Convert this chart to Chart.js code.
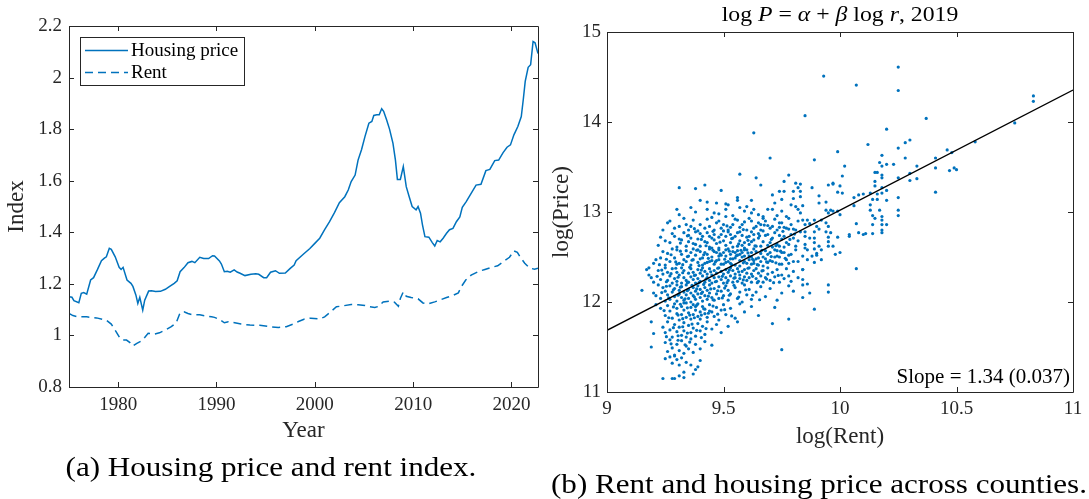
<!DOCTYPE html>
<html>
<head>
<meta charset="utf-8">
<script src="https://cdn.jsdelivr.net/npm/chart.js@4.4.1/dist/chart.umd.min.js"></script>
<style>
  html, body { margin: 0; padding: 0; background: #fff; }
  body { width: 1089px; height: 499px; position: relative; overflow: hidden; font-family: "Liberation Serif", "Times New Roman", serif; color: #000; }
  canvas { position: absolute; top: 0; }
  #indexChart { left: 0; }
  #countyChart { left: 545px; }
  .txt { position: absolute; white-space: nowrap; text-align: center; }
  #rightTitle { left: 640px; width: 400px; top: 1px; font-size: 22px; line-height: 26px; transform: scaleX(1.08); }
  #capA { left: 36px; width: 470px; top: 451px; font-size: 28px; line-height: 32px; transform: scaleX(1.11); }
  #capB { left: 554px; width: 530px; top: 468px; font-size: 28px; line-height: 32px; transform: scaleX(1.11); }
</style>
</head>
<body>
<canvas id="indexChart" width="545" height="460"></canvas>
<canvas id="countyChart" width="544" height="460"></canvas>
<div class="txt" id="rightTitle">log <i>P</i> = <i>α</i> + <i>β</i> log <i>r</i>, 2019</div>
<div class="txt" id="capA">(a) Housing price and rent index.</div>
<div class="txt" id="capB">(b) Rent and housing price across counties.</div>
<script>
// ---- panel (a): housing price and rent index ----
const priceYears = [1975.0, 1975.3, 1975.5, 1976.0, 1976.25, 1976.5, 1976.8, 1977.2, 1977.5, 1977.9,
  1978.3, 1978.6, 1978.8, 1979.1, 1979.3, 1979.7, 1980.1, 1980.3, 1980.5, 1980.9,
  1981.3, 1981.5, 1981.8, 1982.0, 1982.2, 1982.5, 1982.7, 1983.1, 1983.4, 1983.8,
  1984.3, 1984.8, 1985.2, 1985.7, 1986.0, 1986.3, 1986.7, 1987.1, 1987.5, 1987.8,
  1988.3, 1988.7, 1989.2, 1989.6, 1989.8, 1990.3, 1990.5, 1990.8, 1991.1, 1991.4,
  1991.8, 1992.1, 1992.4, 1992.9, 1993.5, 1994.0, 1994.3, 1994.8, 1995.1, 1995.5,
  1996.0, 1996.4, 1997.0, 1997.5, 1997.9, 1998.1, 1998.8, 1999.5, 2000.0, 2000.5,
  2001.0, 2001.5, 2002.0, 2002.5, 2003.05, 2003.4, 2003.7, 2004.1, 2004.4, 2004.75,
  2005.1, 2005.5, 2005.8, 2006.0, 2006.3, 2006.55, 2006.8, 2007.0, 2007.3, 2007.6,
  2007.95, 2008.2, 2008.4, 2008.7, 2009.0, 2009.3, 2009.6, 2009.9, 2010.3, 2010.5,
  2010.75, 2010.95, 2011.2, 2011.6, 2011.95, 2012.2, 2012.45, 2012.75, 2013.05, 2013.4,
  2013.7, 2014.05, 2014.4, 2014.75, 2015.0, 2015.4, 2015.9, 2016.4, 2016.9, 2017.4,
  2017.8, 2018.3, 2018.7, 2019.15, 2019.55, 2019.9, 2020.25, 2020.65, 2021.0, 2021.2,
  2021.4, 2021.7, 2021.95, 2022.2, 2022.4, 2022.7];
const priceIndex = [1.150, 1.148, 1.135, 1.127, 1.163, 1.166, 1.160, 1.215, 1.224, 1.256,
  1.290, 1.300, 1.305, 1.338, 1.334, 1.305, 1.264, 1.256, 1.264, 1.215,
  1.202, 1.190, 1.157, 1.124, 1.148, 1.098, 1.137, 1.172, 1.173, 1.170,
  1.171, 1.179, 1.189, 1.202, 1.212, 1.247, 1.263, 1.282, 1.287, 1.282,
  1.303, 1.298, 1.298, 1.309, 1.308, 1.289, 1.277, 1.247, 1.249, 1.245,
  1.254, 1.246, 1.241, 1.232, 1.237, 1.239, 1.237, 1.224, 1.224, 1.245,
  1.251, 1.241, 1.242, 1.260, 1.273, 1.290, 1.314, 1.337, 1.357, 1.377,
  1.410, 1.441, 1.476, 1.515, 1.538, 1.564, 1.597, 1.622, 1.680, 1.720,
  1.771, 1.823, 1.830, 1.853, 1.856, 1.856, 1.879, 1.869, 1.836, 1.800,
  1.745, 1.680, 1.605, 1.605, 1.655, 1.577, 1.538, 1.500, 1.487, 1.500,
  1.474, 1.429, 1.383, 1.381, 1.360, 1.347, 1.368, 1.363, 1.377, 1.396,
  1.410, 1.415, 1.441, 1.460, 1.497, 1.519, 1.551, 1.583, 1.586, 1.639,
  1.644, 1.678, 1.680, 1.709, 1.730, 1.739, 1.778, 1.810, 1.849, 1.914,
  1.985, 2.040, 2.050, 2.140, 2.135, 2.093];

const rentYears = [1975.0, 1975.4, 1975.8, 1976.8, 1977.8, 1978.8, 1979.3, 1979.8, 1980.2, 1980.5,
  1980.85, 1981.2, 1981.5, 1981.9, 1982.4, 1982.7, 1983.05, 1983.7, 1984.2, 1984.9,
  1985.4, 1985.9, 1986.3, 1986.7, 1987.1, 1987.6, 1988.3, 1989.0, 1989.5, 1989.8,
  1990.3, 1990.8, 1991.2, 1991.7, 1992.5, 1993.4, 1994.4, 1995.4, 1996.3, 1997.1,
  1997.8, 1998.4, 1998.9, 1999.6, 2000.5, 2001.0, 2001.5, 2002.2, 2002.9, 2003.7,
  2004.4, 2005.1, 2005.6, 2006.1, 2006.5, 2006.95, 2007.6, 2008.1, 2008.5, 2008.7,
  2009.0, 2009.3, 2009.8, 2010.5, 2011.0, 2011.5, 2012.2, 2012.7, 2013.4, 2014.05,
  2014.6, 2014.9, 2015.35, 2015.9, 2016.6, 2017.3, 2017.95, 2018.6, 2019.3, 2019.8,
  2020.25, 2020.6, 2020.85, 2021.35, 2021.85, 2022.35, 2022.7];
const rentIndex = [1.085, 1.077, 1.073, 1.072, 1.068, 1.059, 1.044, 1.014, 0.988, 0.982,
  0.982, 0.972, 0.959, 0.969, 0.979, 0.992, 1.008, 1.005, 1.010, 1.023,
  1.034, 1.049, 1.088, 1.092, 1.085, 1.080, 1.080, 1.075, 1.072, 1.070,
  1.062, 1.049, 1.053, 1.050, 1.044, 1.040, 1.039, 1.034, 1.031, 1.034,
  1.044, 1.055, 1.063, 1.067, 1.064, 1.072, 1.088, 1.111, 1.115, 1.120,
  1.119, 1.116, 1.111, 1.108, 1.113, 1.130, 1.133, 1.129, 1.113, 1.143,
  1.169, 1.152, 1.147, 1.142, 1.126, 1.122, 1.130, 1.137, 1.147, 1.155,
  1.165, 1.189, 1.215, 1.234, 1.247, 1.256, 1.264, 1.270, 1.290, 1.303,
  1.328, 1.322, 1.306, 1.280, 1.261, 1.257, 1.261];

const yearTicks = [1980, 1990, 2000, 2010, 2020];
const indexTicks = [0.8, 1, 1.2, 1.4, 1.6, 1.8, 2, 2.2];

// ---- panel (b): counties, [log rent, log price], 2019 ----
const counties = [
  [9.63,13.88],[9.70,13.60],[9.57,13.42],[9.78,13.41],[9.76,13.34],[9.64,13.38],[9.66,13.30],[9.31,13.27],
  [9.38,13.26],[9.42,13.30],[9.49,13.24],[9.56,13.16],[9.56,13.13],[9.40,13.13],[9.43,13.11],[9.47,13.10],
  [9.51,13.09],[9.62,13.13],[9.71,13.19],[9.74,13.23],[9.76,13.23],[9.80,13.23],[9.81,13.32],[9.82,13.27],
  [9.30,13.03],[9.31,12.97],[9.36,13.05],[9.43,13.03],[9.46,12.99],[9.51,13.03],[9.54,12.96],[9.59,13.01],
  [9.60,13.06],[9.63,13.03],[9.65,12.97],[9.69,13.03],[9.71,13.03],[9.75,13.14],[9.75,13.01],[9.79,13.08],
  [9.81,13.06],[9.82,13.03],[9.67,12.93],[9.73,12.96],[9.77,12.95],[9.52,13.08],[9.57,13.05],[9.38,13.00],
  [9.48,12.98],[9.62,12.99],[9.72,13.10],[9.80,13.15],
  [9.24,12.80],[9.26,12.88],[9.27,12.90],[9.29,12.82],[9.31,12.84],[9.33,12.93],[9.34,12.86],[9.35,12.80],
  [9.37,12.91],[9.39,12.79],[9.40,12.86],[9.42,12.82],[9.44,12.84],[9.45,12.94],[9.46,12.80],[9.48,12.90],
  [9.50,12.86],[9.51,12.95],[9.52,12.80],[9.54,12.86],[9.55,12.92],[9.56,12.91],[9.57,12.83],[9.58,12.86],
  [9.60,12.80],[9.61,12.93],[9.62,12.90],[9.63,12.82],[9.64,12.84],[9.65,12.88],[9.66,12.80],[9.67,12.95],
  [9.68,12.90],[9.69,12.85],[9.70,12.82],[9.71,12.84],[9.72,12.92],[9.73,12.80],[9.74,12.88],[9.75,12.88],
  [9.76,12.83],[9.77,12.82],[9.78,12.93],[9.79,12.86],[9.80,12.81],[9.81,12.80],[9.82,12.90],[9.47,12.88],
  [9.53,12.83],[9.59,12.89],[9.36,12.84],[9.43,12.92],[9.49,12.82],[9.66,12.86],[9.74,12.83],[9.78,12.81],
  [9.22,12.63],[9.23,12.72],[9.25,12.68],[9.27,12.66],[9.28,12.76],[9.30,12.61],[9.31,12.70],[9.32,12.69],
  [9.33,12.77],[9.34,12.62],[9.35,12.74],[9.36,12.71],[9.37,12.65],[9.38,12.64],[9.38,12.78],[9.39,12.70],
  [9.40,12.62],[9.41,12.73],[9.42,12.67],[9.43,12.66],[9.43,12.77],[9.44,12.61],[9.45,12.71],[9.46,12.75],
  [9.47,12.65],[9.48,12.60],[9.48,12.72],[9.49,12.75],[9.50,12.68],[9.51,12.73],[9.51,12.63],[9.52,12.78],
  [9.53,12.66],[9.54,12.71],[9.54,12.61],[9.55,12.73],[9.56,12.62],[9.56,12.77],[9.57,12.68],[9.58,12.74],
  [9.59,12.66],[9.59,12.60],[9.60,12.72],[9.61,12.73],[9.61,12.64],[9.62,12.78],[9.63,12.69],[9.64,12.62],
  [9.65,12.71],[9.65,12.76],[9.66,12.62],[9.67,12.67],[9.68,12.74],[9.69,12.75],[9.70,12.66],[9.71,12.71],
  [9.71,12.61],[9.72,12.77],[9.73,12.64],[9.74,12.62],[9.75,12.70],[9.76,12.73],[9.77,12.66],[9.78,12.64],
  [9.79,12.75],[9.80,12.71],[9.81,12.62],[9.82,12.68],[9.40,12.76],[9.46,12.69],[9.53,12.75],[9.58,12.63],
  [9.63,12.75],[9.69,12.63],[9.74,12.74],[9.44,12.73],[9.50,12.79],[9.57,12.78],[9.62,12.67],[9.67,12.79],
  [9.76,12.61],[9.35,12.67],[9.29,12.73],
  [9.315,12.655],[9.345,12.735],[9.375,12.815],[9.405,12.695],[9.425,12.625],[9.455,12.785],[9.485,12.665],
  [9.515,12.845],[9.535,12.705],[9.565,12.645],[9.585,12.805],[9.605,12.685],[9.635,12.625],[9.655,12.735],
  [9.675,12.855],[9.705,12.695],[9.725,12.625],[9.755,12.785],[9.785,12.695],[9.805,12.755],
  [9.18,12.38],[9.20,12.43],[9.21,12.47],[9.23,12.49],[9.24,12.56],[9.25,12.41],[9.26,12.54],[9.27,12.45],
  [9.28,12.59],[9.29,12.49],[9.30,12.58],[9.30,12.42],[9.31,12.43],[9.32,12.53],[9.33,12.47],[9.34,12.45],
  [9.34,12.57],[9.35,12.51],[9.36,12.55],[9.36,12.41],[9.37,12.47],[9.38,12.52],[9.39,12.44],[9.39,12.58],
  [9.40,12.56],[9.40,12.48],[9.41,12.49],[9.41,12.41],[9.42,12.55],[9.43,12.53],[9.43,12.44],[9.44,12.45],
  [9.44,12.59],[9.45,12.60],[9.45,12.50],[9.46,12.42],[9.46,12.56],[9.47,12.55],[9.47,12.46],[9.48,12.47],
  [9.48,12.58],[9.49,12.52],[9.49,12.42],[9.50,12.42],[9.50,12.55],[9.51,12.58],[9.51,12.51],[9.52,12.45],
  [9.52,12.59],[9.53,12.43],[9.53,12.53],[9.54,12.56],[9.54,12.48],[9.55,12.49],[9.55,12.41],[9.56,12.57],
  [9.56,12.52],[9.57,12.40],[9.57,12.46],[9.58,12.55],[9.58,12.50],[9.59,12.45],[9.59,12.58],[9.60,12.58],
  [9.60,12.43],[9.61,12.51],[9.61,12.47],[9.62,12.55],[9.62,12.42],[9.63,12.43],[9.63,12.59],[9.64,12.56],
  [9.64,12.48],[9.65,12.49],[9.65,12.41],[9.66,12.54],[9.67,12.40],[9.67,12.50],[9.68,12.57],[9.69,12.53],
  [9.69,12.44],[9.70,12.46],[9.71,12.45],[9.72,12.58],[9.72,12.50],[9.73,12.51],[9.74,12.42],[9.75,12.42],
  [9.75,12.55],[9.76,12.55],[9.77,12.47],[9.78,12.52],[9.79,12.53],[9.80,12.45],[9.81,12.58],[9.82,12.45],
  [9.37,12.59],[9.42,12.43],[9.48,12.51],[9.53,12.48],[9.57,12.53],[9.62,12.50],[9.66,12.45],[9.70,12.55],
  [9.74,12.50],[9.78,12.43],[9.45,12.46],[9.51,12.44],[9.55,12.55],[9.59,12.51],[9.63,12.46],[9.68,12.48],
  [9.73,12.57],
  [9.225,12.415],[9.255,12.475],[9.275,12.525],[9.295,12.445],[9.315,12.565],[9.325,12.415],[9.345,12.505],
  [9.365,12.465],[9.385,12.575],[9.395,12.405],[9.415,12.525],[9.435,12.485],[9.455,12.575],[9.465,12.445],
  [9.485,12.535],[9.505,12.475],[9.525,12.565],[9.535,12.415],[9.555,12.515],[9.575,12.575],[9.585,12.435],
  [9.605,12.545],[9.625,12.475],[9.645,12.415],[9.665,12.575],[9.685,12.445],[9.705,12.505],[9.725,12.435],
  [9.745,12.565],[9.765,12.485],
  [9.17,12.36],[9.18,12.30],[9.19,12.27],[9.20,12.22],[9.22,12.35],[9.23,12.25],[9.24,12.31],[9.25,12.38],
  [9.26,12.24],[9.26,12.33],[9.27,12.29],[9.28,12.21],[9.28,12.37],[9.29,12.26],[9.30,12.33],[9.30,12.23],
  [9.31,12.30],[9.32,12.38],[9.32,12.21],[9.33,12.27],[9.33,12.35],[9.34,12.24],[9.35,12.32],[9.35,12.22],
  [9.36,12.28],[9.36,12.37],[9.37,12.25],[9.37,12.33],[9.38,12.21],[9.38,12.30],[9.39,12.36],[9.39,12.26],
  [9.40,12.23],[9.40,12.32],[9.41,12.29],[9.41,12.38],[9.42,12.22],[9.42,12.34],[9.43,12.27],[9.43,12.31],
  [9.44,12.37],[9.44,12.24],[9.45,12.30],[9.45,12.21],[9.46,12.35],[9.46,12.27],[9.47,12.23],[9.47,12.32],
  [9.48,12.38],[9.48,12.28],[9.49,12.25],[9.49,12.34],[9.50,12.31],[9.50,12.21],[9.51,12.36],[9.51,12.27],
  [9.52,12.24],[9.52,12.33],[9.53,12.29],[9.53,12.38],[9.54,12.22],[9.54,12.35],[9.55,12.27],[9.55,12.31],
  [9.56,12.37],[9.56,12.23],[9.57,12.30],[9.57,12.26],[9.58,12.34],[9.58,12.21],[9.59,12.28],[9.59,12.36],
  [9.60,12.24],[9.60,12.32],[9.61,12.38],[9.61,12.27],[9.62,12.22],[9.62,12.31],[9.63,12.35],[9.64,12.26],
  [9.64,12.37],[9.65,12.23],[9.65,12.32],[9.66,12.29],[9.67,12.35],[9.67,12.22],[9.68,12.27],[9.69,12.38],
  [9.69,12.31],[9.70,12.24],[9.71,12.33],[9.72,12.28],[9.73,12.36],[9.74,12.22],[9.75,12.30],[9.76,12.26],
  [9.77,12.37],[9.78,12.29],[9.79,12.23],[9.80,12.34],[9.82,12.27],[9.84,12.36],
  [9.215,12.285],[9.235,12.355],[9.255,12.225],[9.275,12.315],[9.295,12.375],[9.305,12.275],[9.325,12.325],
  [9.345,12.215],[9.355,12.385],[9.375,12.295],[9.395,12.215],[9.405,12.355],[9.425,12.255],[9.445,12.335],
  [9.465,12.225],[9.475,12.375],[9.495,12.285],[9.515,12.215],[9.525,12.355],[9.545,12.265],[9.565,12.335],
  [9.585,12.245],[9.605,12.375],[9.625,12.285],[9.645,12.215],[9.665,12.345],[9.685,12.255],[9.715,12.215],
  [9.735,12.295],
  [9.15,12.13],[9.20,12.10],[9.21,12.07],[9.22,12.19],[9.23,12.04],[9.24,12.16],[9.25,12.01],[9.25,12.12],
  [9.26,12.08],[9.27,12.18],[9.27,12.03],[9.28,12.11],[9.29,12.06],[9.29,12.15],[9.30,12.19],[9.30,12.01],
  [9.31,12.09],[9.31,12.13],[9.32,12.05],[9.32,12.17],[9.33,12.02],[9.33,12.11],[9.34,12.08],[9.34,12.19],
  [9.35,12.14],[9.35,12.04],[9.36,12.10],[9.36,12.00],[9.37,12.16],[9.37,12.07],[9.38,12.12],[9.38,12.03],
  [9.39,12.18],[9.39,12.09],[9.40,12.05],[9.40,12.14],[9.41,12.01],[9.41,12.11],[9.42,12.16],[9.42,12.07],
  [9.43,12.03],[9.43,12.13],[9.44,12.10],[9.44,12.19],[9.45,12.05],[9.46,12.15],[9.46,12.02],[9.47,12.09],
  [9.48,12.17],[9.48,12.04],[9.49,12.12],[9.50,12.07],[9.51,12.18],[9.52,12.02],[9.52,12.13],[9.53,12.09],
  [9.55,12.16],[9.56,12.04],[9.57,12.11],[9.58,12.00],[9.59,12.19],[9.60,12.08],[9.61,12.14],[9.62,12.03],
  [9.64,12.11],[9.66,12.17],[9.68,12.06],[9.70,12.15],[9.73,12.02],[9.75,12.10],[9.78,12.18],[9.80,12.12],
  [9.86,12.20],[9.87,12.10],
  [9.235,12.105],[9.255,12.175],[9.265,12.045],[9.285,12.135],[9.305,12.075],[9.315,12.165],[9.335,12.035],
  [9.345,12.125],[9.365,12.185],[9.375,12.055],[9.385,12.145],[9.405,12.095],[9.415,12.195],[9.435,12.065],
  [9.445,12.145],[9.455,12.025],[9.475,12.125],[9.495,12.045],[9.505,12.155],[9.525,12.075],[9.545,12.185],
  [9.565,12.055],[9.595,12.135],[9.625,12.075],[9.655,12.025],
  [9.19,11.78],[9.21,11.97],[9.23,11.93],[9.25,11.85],[9.26,11.96],[9.27,11.90],[9.28,11.82],[9.29,11.98],
  [9.30,11.87],[9.30,11.93],[9.31,11.80],[9.32,11.95],[9.32,11.86],[9.33,11.91],[9.34,11.83],[9.34,11.99],
  [9.35,11.88],[9.36,11.94],[9.36,11.81],[9.37,11.97],[9.37,11.86],[9.38,11.91],[9.39,11.84],[9.39,11.98],
  [9.40,11.89],[9.40,11.81],[9.41,11.95],[9.42,11.87],[9.42,11.92],[9.43,11.83],[9.44,11.97],[9.45,11.89],
  [9.46,11.84],[9.47,11.94],[9.48,11.80],[9.49,11.91],[9.50,11.97],[9.51,11.86],[9.53,11.93],[9.55,11.82],
  [9.57,11.98],[9.59,11.89],[9.62,11.95],[9.65,11.85],[9.72,11.94],[9.78,11.81],[9.33,11.99],[9.38,11.95],
  [9.44,11.90],
  [9.245,11.905],[9.265,11.825],[9.285,11.945],[9.305,11.855],[9.315,11.975],[9.325,11.815],[9.345,11.935],
  [9.355,11.855],[9.375,11.825],[9.385,11.965],[9.405,11.855],[9.415,11.925],[9.435,11.875],[9.455,11.955],
  [9.475,11.865],[9.505,11.915],[9.535,11.845],
  [9.20,11.65],[9.24,11.72],[9.25,11.66],[9.26,11.78],[9.27,11.69],[9.28,11.61],[9.29,11.75],[9.30,11.67],
  [9.31,11.72],[9.32,11.63],[9.33,11.77],[9.33,11.68],[9.34,11.61],[9.35,11.74],[9.36,11.66],[9.37,11.71],
  [9.38,11.62],[9.39,11.76],[9.40,11.68],[9.41,11.73],[9.42,11.64],[9.43,11.78],[9.45,11.70],[9.47,11.75],
  [9.49,11.66],[9.52,11.73],[9.56,11.78],[9.71,11.76],
  [9.255,11.615],[9.285,11.715],[9.305,11.625],[9.325,11.725],[9.345,11.655],[9.365,11.755],[9.385,11.685],
  [9.405,11.605],[9.425,11.705],[9.275,11.535],[9.305,11.575],[9.335,11.525],[9.355,11.555],
  [9.19,11.50],[9.25,11.55],[9.26,11.45],[9.27,11.58],[9.28,11.49],[9.29,11.41],[9.30,11.53],[9.31,11.46],
  [9.32,11.57],[9.33,11.43],[9.34,11.51],[9.35,11.48],[9.36,11.59],[9.37,11.44],[9.38,11.53],[9.40,11.48],
  [9.42,11.56],[9.45,11.52],[9.75,11.47],
  [9.25,11.37],[9.27,11.39],[9.28,11.32],[9.29,11.40],[9.30,11.36],[9.31,11.30],[9.32,11.38],[9.33,11.22],
  [9.34,11.33],[9.36,11.30],[9.38,11.25],[9.39,11.28],[9.40,11.35],[9.24,11.15],[9.28,11.15],[9.29,11.15],
  [9.33,11.16],[9.37,11.20],[9.31,11.18],
  [10.25,14.61],[10.25,14.35],[9.93,14.51],[10.07,14.41],[9.85,14.07],[10.37,14.04],[10.83,14.29],[10.83,14.23],
  [10.75,13.99],[10.20,13.92],[10.12,13.75],[10.28,13.77],[10.30,13.80],[10.58,13.78],[9.99,13.67],[9.89,13.58],
  [10.18,13.63],[10.25,13.71],[10.28,13.60],[10.46,13.69],[10.48,13.66],[10.41,13.60],[10.20,13.53],[10.23,13.53],
  [10.17,13.55],[10.33,13.51],[10.16,13.44],[10.18,13.51],[10.02,13.51],[10.41,13.49],[10.47,13.46],[10.49,13.49],
  [10.50,13.47],[10.01,13.40],[10.18,13.38],[10.18,13.41],[10.25,13.38],[10.30,13.43],[10.33,13.37],[10.30,13.35],
  [10.15,13.34],[10.15,13.29],[10.15,13.44],[9.95,13.30],[9.97,13.31],[9.83,13.31],[9.88,13.27],[9.91,13.18],
  [10.01,13.21],[10.06,13.16],[10.08,13.19],[10.10,13.20],[10.13,13.21],[10.16,13.20],[10.18,13.21],[10.20,13.24],
  [10.18,13.27],[10.41,13.22],[10.25,13.16],[10.14,13.14],[10.13,13.08],[10.13,13.02],[10.14,12.96],[10.16,13.14],
  [10.17,13.02],[10.18,12.95],[10.18,12.91],[10.18,12.86],[10.18,12.80],[10.18,12.77],[10.20,13.13],[10.20,12.86],
  [10.15,12.93],[10.25,13.02],[10.25,12.96],[10.14,12.86],[10.14,12.76],[10.10,12.75],[10.04,12.75],[10.07,12.87],
  [10.06,13.07],[9.97,13.01],[9.95,12.99],[9.99,13.01],[10.00,12.97],[9.99,13.22],[10.00,13.29],[9.94,13.11],
  [9.91,13.10],[9.92,12.91],[9.94,13.02],[9.96,13.02],[9.94,12.88],[9.95,12.84],[9.94,12.78],[9.95,12.72],
  [9.95,12.67],[9.96,12.77],[9.95,12.62],[9.89,12.91],[9.90,12.84],[9.89,12.78],[9.89,12.71],[9.89,12.66],
  [9.89,12.59],[9.90,12.54],[9.90,12.52],[9.87,12.87],[9.87,12.71],[9.85,12.73],[9.85,12.64],[9.85,12.60],
  [9.84,12.51],[9.86,12.58],[9.88,12.51],[9.89,12.44],[9.86,12.47],[9.84,12.36],[9.84,12.25],[9.84,12.19],
  [9.84,12.05],[9.89,11.92],[9.95,12.19],[9.95,12.11],[10.07,12.37],[9.92,12.47],[9.98,12.53],[10.00,12.55],
  [9.99,12.72],[10.04,12.73],[10.08,12.77],[10.11,12.76],[9.97,12.62],[9.91,12.62],[9.92,12.58],[9.91,12.81],
  [9.97,13.32],[9.83,13.23],[9.83,13.17],[9.84,13.07],[9.83,12.99],[9.86,12.91],[9.84,12.91],[9.85,12.86],
  [9.83,12.78],[9.85,12.78]
];
// fitted line, read at the two edges of the plot
const fitRent = [9, 11];
const fitPrice = [11.685, 14.355];
const slopeNote = 'Slope = 1.34 (0.037)';

const rentTicks = [9, 9.5, 10, 10.5, 11];
const priceTicks = [11, 12, 13, 14, 15];

// ---- styling ----
const blue = '#0072BD';
const axisColor = '#262626';
Chart.defaults.font.family = '"Liberation Serif", "Times New Roman", serif';
Chart.defaults.color = axisColor;

// full box with inward ticks on all four sides (MATLAB look)
const boxTicks = {
  id: 'boxTicks',
  afterDraw(chart) {
    const { ctx, chartArea: a, scales: { x, y } } = chart;
    const len = 5;
    ctx.save();
    ctx.strokeStyle = axisColor;
    ctx.lineWidth = 1;
    ctx.setLineDash([]);
    ctx.beginPath();
    ctx.rect(Math.round(a.left) + 0.5, Math.round(a.top) + 0.5, Math.round(a.right - a.left), Math.round(a.bottom - a.top));
    x.ticks.forEach(t => {
      const px = Math.round(x.getPixelForValue(t.value)) + 0.5;
      ctx.moveTo(px, a.bottom); ctx.lineTo(px, a.bottom - len);
      ctx.moveTo(px, a.top); ctx.lineTo(px, a.top + len);
    });
    y.ticks.forEach(t => {
      const py = Math.round(y.getPixelForValue(t.value)) + 0.5;
      ctx.moveTo(a.left, py); ctx.lineTo(a.left + len, py);
      ctx.moveTo(a.right, py); ctx.lineTo(a.right - len, py);
    });
    ctx.stroke();
    ctx.restore();
  }
};

const legendBox = {
  id: 'legendBox',
  afterDraw(chart) {
    const { ctx, chartArea: a } = chart;
    const x0 = Math.round(a.left) + 11, y0 = Math.round(a.top) + 11;
    ctx.save();
    ctx.fillStyle = '#fff';
    ctx.fillRect(x0, y0, 164, 48);
    ctx.strokeStyle = axisColor;
    ctx.lineWidth = 1;
    ctx.strokeRect(x0 + 0.5, y0 + 0.5, 164, 48);
    ctx.font = '19px "Liberation Serif", serif';
    ctx.textBaseline = 'middle';
    chart.data.datasets.forEach((ds, i) => {
      const cy = y0 + 13.5 + i * 22;
      ctx.strokeStyle = ds.borderColor;
      ctx.lineWidth = ds.borderWidth;
      ctx.setLineDash(ds.borderDash || []);
      ctx.beginPath();
      ctx.moveTo(x0 + 5, cy); ctx.lineTo(x0 + 48, cy);
      ctx.stroke();
      ctx.setLineDash([]);
      ctx.fillStyle = '#000';
      ctx.fillText(ds.label, x0 + 51, cy + 1);
    });
    ctx.restore();
  }
};

const slopeText = {
  id: 'slopeText',
  afterDraw(chart) {
    const { ctx, chartArea: a } = chart;
    ctx.save();
    ctx.font = '21px "Liberation Serif", serif';
    ctx.fillStyle = '#000';
    ctx.textAlign = 'right';
    ctx.textBaseline = 'middle';
    ctx.fillText(slopeNote, a.right - 3, a.bottom - 15);
    ctx.restore();
  }
};

function axisOpts(min, max, tickVals, fmt, size, padding, title, titlePad) {
  return {
    type: 'linear', min, max,
    grid: { display: false, drawTicks: false },
    border: { display: false },
    afterBuildTicks: s => { s.ticks = tickVals.map(v => ({ value: v })); },
    afterFit: s => { if (s.isHorizontal()) s.height = size; else s.width = size; },
    ticks: { font: { size: 19 }, color: axisColor, padding, maxRotation: 0, autoSkip: false, callback: fmt },
    title: { display: true, text: title, font: { size: 23 }, color: axisColor, padding: titlePad }
  };
}
const fmtNum = v => String(Math.round(v * 10) / 10);

new Chart(document.getElementById('indexChart'), {
  type: 'line',
  data: {
    datasets: [
      { label: 'Housing price', data: priceYears.map((x, i) => ({ x, y: priceIndex[i] })),
        borderColor: blue, borderWidth: 1.5, pointRadius: 0, tension: 0 },
      { label: 'Rent', data: rentYears.map((x, i) => ({ x, y: rentIndex[i] })),
        borderColor: blue, borderWidth: 1.5, borderDash: [8, 5], pointRadius: 0, tension: 0 }
    ]
  },
  options: {
    responsive: false, animation: false,
    layout: { padding: { top: 26, right: 7, left: 0, bottom: 0 } },
    plugins: { legend: { display: false }, tooltip: { enabled: false } },
    scales: {
      x: axisOpts(1975, 2022.7, yearTicks, v => String(v), 73, 7, 'Year', { top: 0, bottom: 15 }),
      y: axisOpts(0.8, 2.2, indexTicks, fmtNum, 69, 7, 'Index', { top: 3, bottom: 0 })
    }
  },
  plugins: [boxTicks, legendBox]
});

new Chart(document.getElementById('countyChart'), {
  type: 'scatter',
  data: {
    datasets: [
      { type: 'line', label: 'Fit', data: fitRent.map((x, i) => ({ x, y: fitPrice[i] })),
        borderColor: '#000', borderWidth: 1.3, pointRadius: 0, order: 0 },
      { label: 'Counties', data: counties.map(([x, y]) => ({ x, y })),
        pointRadius: 1.6, pointBackgroundColor: blue, pointBorderWidth: 0, borderColor: blue, order: 1 }
    ]
  },
  options: {
    responsive: false, animation: false,
    layout: { padding: { top: 32, right: 16, left: 0, bottom: 0 } },
    plugins: { legend: { display: false }, tooltip: { enabled: false } },
    scales: {
      x: axisOpts(9, 11, rentTicks, fmtNum, 68, 6, 'log(Rent)', { top: 0, bottom: 9 }),
      y: axisOpts(11, 15, priceTicks, fmtNum, 62, 6, 'log(Price)', { top: 3, bottom: 0 })
    }
  },
  plugins: [boxTicks, slopeText]
});
</script>
</body>
</html>
